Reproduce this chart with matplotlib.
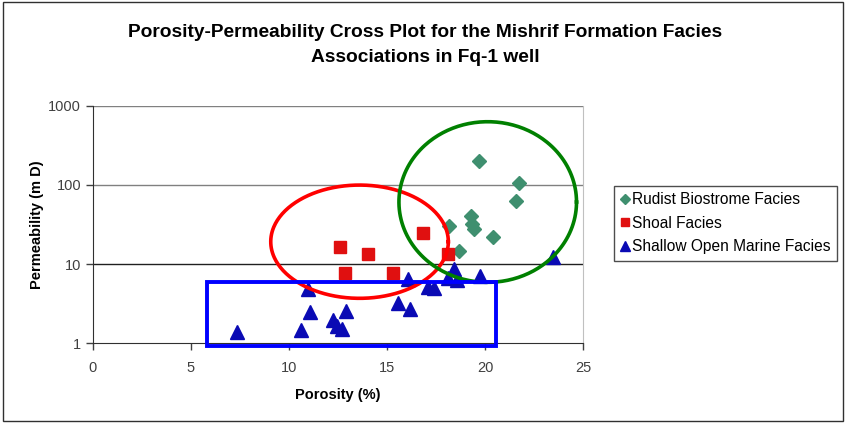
import numpy as np
import matplotlib.pyplot as plt
from matplotlib.patches import Rectangle
from matplotlib.lines import Line2D

plt.rcParams['font.family'] = ['Liberation Sans', 'DejaVu Sans']

# Rudist biostrome facies
rudist_phi = [19.68, 21.73, 21.6, 19.27, 19.34, 19.44, 18.15, 20.42, 18.69]
rudist_k = [202, 105, 62.6, 40.5, 32, 27.5, 30.3, 21.8, 14.8]

# Shoal facies
shoal_phi = [16.82, 12.6, 14.03, 18.13, 12.84, 15.32]
shoal_k = [24.9, 16.3, 13.4, 13.4, 7.65, 7.65]

# Shallow open marine facies
marine_phi = [7.36, 10.61, 10.99, 11.07, 12.23, 12.43, 12.69, 12.91, 15.54, 16.2,
              16.09, 17.1, 17.4, 18.42, 18.13, 18.59, 19.76, 23.48]
marine_k = [1.40, 1.47, 4.8, 2.46, 1.97, 1.65, 1.50, 2.58, 3.2, 2.71,
            6.43, 5.2, 5.0, 8.6, 6.6, 6.3, 7.14, 12.4]

# grouping outlines: ellipses given as (centre phi, centre log10 k, half width, half decades)
red_ellipse = (13.6, 1.283, 4.53, 0.715)
green_ellipse = (20.14, 1.784, 4.53, 1.014)
blue_box = (5.83, 20.56, 0.93, 6.0)

fig = plt.figure(figsize=(8.46, 4.23), dpi=100)
ax = fig.add_axes([0.1099, 0.1884, 0.5792, 0.5617])

# plot-area gridlines
for g, c in zip([10, 100, 1000], ['#202020', '#808080', '#808080']):
    ax.axhline(g, color=c, lw=1.0, zorder=1)

ax.plot(rudist_phi, rudist_k, linestyle='None', marker='D', ms=7,
        color='#3f8f6f', mec='#3f8f6f', zorder=4, label='Rudist Biostrome Facies')
ax.plot(shoal_phi, shoal_k, linestyle='None', marker='s', ms=8,
        color='#e01010', mec='#e01010', zorder=4, label='Shoal Facies')
ax.plot(marine_phi, marine_k, linestyle='None', marker='^', ms=9.5,
        color='#0a0ab4', mec='#0a0ab4', zorder=4, label='Shallow Open Marine Facies')

t = np.linspace(0, 2 * np.pi, 300)
for (cx, cy, rx, ry), col in [(red_ellipse, '#ff0000'), (green_ellipse, '#008000')]:
    ax.plot(cx + rx * np.cos(t), 10 ** (cy + ry * np.sin(t)), color=col, lw=2.6,
            zorder=5, clip_on=False)

x0, x1, y0, y1 = blue_box
ax.add_patch(Rectangle((x0, y0), x1 - x0, y1 - y0, fill=False, edgecolor='#0000ff',
                       lw=2.8, zorder=5, clip_on=False))

ax.set_yscale('log')
ax.set_xlim(0, 25)
ax.set_ylim(1, 1000)
ax.set_xticks([0, 5, 10, 15, 20, 25])
ax.set_yticks([1, 10, 100, 1000])
ax.set_yticklabels(['1', '10', '100', '1000'])
ax.yaxis.set_minor_locator(plt.NullLocator())
ax.tick_params(axis='both', direction='out', length=5, width=1, labelsize=10.5,
               labelcolor='#404040', color='#404040')
ax.tick_params(axis='x', pad=8)
ax.spines['top'].set_visible(False)
ax.spines['right'].set_color('#c0c0c0')
for s in ['left', 'bottom']:
    ax.spines[s].set_color('#303030')

ax.set_xlabel('Porosity (%)', fontsize=10.5, fontweight='bold', labelpad=9)
ax.set_ylabel('Permeability (m D)', fontsize=10.5, fontweight='bold', labelpad=3)

fig.text(0.503, 0.943, 'Porosity-Permeability Cross Plot for the Mishrif Formation Facies\n'
         'Associations in Fq-1 well', ha='center', va='top', fontsize=13.8,
         fontweight='bold', linespacing=1.6)

handles = [Line2D([], [], linestyle='None', marker='D', ms=5.5, color='#3f8f6f'),
           Line2D([], [], linestyle='None', marker='s', ms=6, color='#e01010'),
           Line2D([], [], linestyle='None', marker='^', ms=7, color='#0a0ab4')]
leg = fig.legend(handles, ['Rudist Biostrome Facies', 'Shoal Facies',
                           'Shallow Open Marine Facies'],
                 loc='upper left', bbox_to_anchor=(0.7258, 0.5603), fontsize=11.2,
                 frameon=True, fancybox=False, handlelength=0.6, handletextpad=0.15,
                 borderpad=0.4, labelspacing=0.55, borderaxespad=0)
leg.get_frame().set_edgecolor('#202020')
leg.get_frame().set_linewidth(1.0)

# outer chart border
fig.add_artist(Rectangle((0.003, 0.005), 0.994, 0.99, transform=fig.transFigure,
                         fill=False, edgecolor='#303030', lw=1.0))

fig.savefig('out.png', dpi=100)
